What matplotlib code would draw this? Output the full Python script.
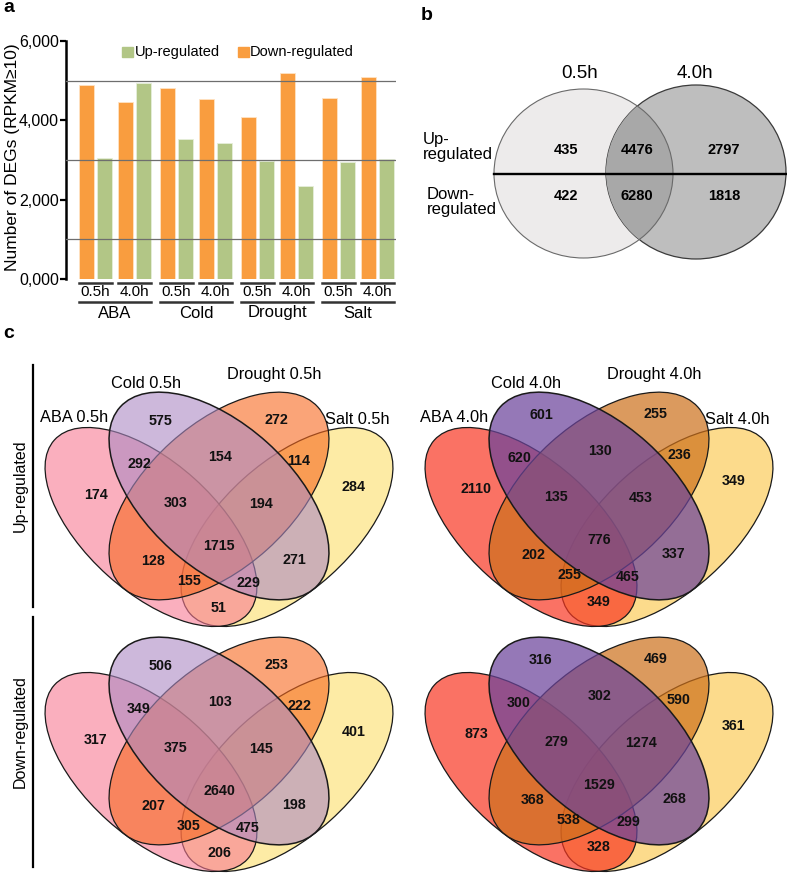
import matplotlib
matplotlib.use('Agg')
import matplotlib.pyplot as plt
from matplotlib.patches import Ellipse
from matplotlib.transforms import blended_transform_factory
from matplotlib.colors import to_rgba

plt.rcParams['font.family'] = ['Liberation Sans', 'DejaVu Sans']

# ---------------- data ----------------
treatments = ['ABA', 'Cold', 'Drought', 'Salt']
times = ['0.5h', '4.0h']
down_counts = [4900, 4460, 4820, 4545, 4090, 5185, 4560, 5095]
up_counts = [3050, 4950, 3535, 3435, 2980, 2340, 2945, 3030]
ytick_vals = [0, 2000, 4000, 6000]
ytick_labels = ['0,000', '2,000', '4,000', '6,000']
grid_vals = [1000, 3000, 5000]

b_sets = ['0.5h', '4.0h']
b_up = [435, 4476, 2797]
b_down = [422, 6280, 1818]

region_keys = ['C', 'D', 'AC', 'CD', 'DS', 'A', 'ACD', 'CDS', 'S', 'ACDS',
               'AD', 'CS', 'ADS', 'ACS', 'AS']
up_05 = [575, 272, 292, 154, 114, 174, 303, 194, 284, 1715, 128, 271, 155, 229, 51]
up_40 = [601, 255, 620, 130, 236, 2110, 135, 453, 349, 776, 202, 337, 255, 465, 349]
down_05 = [506, 253, 349, 103, 222, 317, 375, 145, 401, 2640, 207, 198, 305, 475, 206]
down_40 = [316, 469, 300, 302, 590, 873, 279, 1274, 361, 1529, 368, 268, 538, 299, 328]

# ---------------- layout ----------------
W, H = 787, 876
fig = plt.figure(figsize=(W / 100, H / 100), dpi=100)

ax0 = fig.add_axes([0, 0, 1, 1])
ax0.set_xlim(0, W)
ax0.set_ylim(H, 0)
ax0.axis('off')

ORANGE = '#F99D3F'
GREEN = '#B2C686'

# ---------------- panel a ----------------
ax = fig.add_axes([66 / W, 1 - 279 / H, 330 / W, 238 / H])
ax.set_xlim(0, 330)
ax.set_ylim(0, 6000)
ax.patch.set_alpha(0)
xd, xu = [], []
for g in range(4):
    for p in range(2):
        base = 20.5 + g * 81 + p * 39
        xd.append(base)
        xu.append(base + 18)
ax.bar(xd, down_counts, width=15, color=ORANGE, edgecolor='#FFE3C4', linewidth=0.6, zorder=2)
ax.bar(xu, up_counts, width=15, color=GREEN, edgecolor='#E6EEDA', linewidth=0.6, zorder=2)
for gv in grid_vals:
    ax.axhline(gv, xmin=0, xmax=1, color='#6E6E6E', lw=0.9, zorder=3)
for s in ['top', 'right', 'bottom']:
    ax.spines[s].set_visible(False)
ax.spines['left'].set_linewidth(1.8)
ax.set_yticks(ytick_vals)
ax.set_yticklabels(ytick_labels, fontsize=11.5)
ax.tick_params(axis='y', length=4, width=1.6, pad=1)
ax.set_xticks([])
ax0.text(13, 157, 'Number of DEGs (RPKM\u226510)', fontsize=12.5, rotation=90,
         ha='center', va='center')

bt = blended_transform_factory(ax.transData, ax0.transData)
for i in range(8):
    l = xd[i] - 7.5
    r = xu[i] + 7.5
    ax0.plot([l, r], [283, 283], color='#333333', lw=1.8, transform=bt, clip_on=False)
    ax0.text((l + r) / 2, 292, times[i % 2], fontsize=11, ha='center', va='center', transform=bt)
for g in range(4):
    l = xd[2 * g] - 7.5
    r = xu[2 * g + 1] + 7.5
    ax0.plot([l, r], [302, 302], color='#333333', lw=1.8, transform=bt, clip_on=False)
    ax0.text((l + r) / 2, 313, treatments[g], fontsize=12, ha='center', va='center', transform=bt)

# legend
ax0.add_patch(plt.Rectangle((122, 47), 11, 10, color=GREEN))
ax0.text(135, 52, 'Up-regulated', fontsize=10.5, va='center', ha='left')
ax0.add_patch(plt.Rectangle((238, 47), 11, 10, color=ORANGE))
ax0.text(250, 52, 'Down-regulated', fontsize=10.5, va='center', ha='left')

# panel letters
ax0.text(3, 8, 'a', fontsize=14, fontweight='bold', va='center', ha='left')
ax0.text(421, 15, 'b', fontsize=14, fontweight='bold', va='center', ha='left')
ax0.text(3, 334, 'c', fontsize=14, fontweight='bold', va='center', ha='left')

# ---------------- panel b ----------------
right = Ellipse((696, 172), 180, 174, facecolor='#BEBEBE', edgecolor='#3A3A3A', lw=0.9, zorder=2)
ax0.add_patch(right)
left = Ellipse((583.5, 173.5), 179, 169, facecolor='#EDEBEB', edgecolor='none', zorder=1)
ax0.add_patch(left)
inter = Ellipse((696, 172), 180, 174, facecolor='#A8A8A8', edgecolor='none', zorder=3)
ax0.add_patch(inter)
inter.set_clip_path(left)
left_edge = Ellipse((583.5, 173.5), 179, 169, facecolor='none', edgecolor='#6A6A6A', lw=0.8, zorder=4)
ax0.add_patch(left_edge)
ax0.plot([494, 786], [174, 174], color='black', lw=1.7, zorder=5)
ax0.text(580, 74, b_sets[0], fontsize=13.5, ha='center', va='center')
ax0.text(695, 74, b_sets[1], fontsize=13.5, ha='center', va='center')
ax0.text(423, 147, 'Up-\nregulated', fontsize=12, ha='left', va='center', linespacing=1.0)
ax0.text(427, 202, 'Down-\nregulated', fontsize=12, ha='left', va='center', linespacing=1.0)
bx = [566, 637, 724]
for i in range(3):
    ax0.text(bx[i], 150, str(b_up[i]), fontsize=10.5, fontweight='bold', ha='center', va='center', zorder=6)
    ax0.text(bx[i], 196, str(b_down[i]), fontsize=10.5, fontweight='bold', ha='center', va='center', zorder=6)

# ---------------- panel c ----------------
label_pos = {
    'C': (-58, -78), 'D': (57, -79), 'AC': (-80, -35), 'CD': (1, -42), 'DS': (80, -38),
    'A': (-123, -4), 'ACD': (-43, 4), 'CDS': (42, 5), 'S': (135, -12), 'ACDS': (0, 47),
    'AD': (-66, 62), 'CS': (75, 61), 'ADS': (-30, 82), 'ACS': (29, 84), 'AS': (0, 109),
}
name_pos = {'A': (-145, -78), 'C': (-73, -113), 'D': (55, -121), 'S': (138, -76)}
pal_05 = {'A': ((247, 122, 147), 0.6), 'C': ((172, 138, 195), 0.6),
          'D': ((247, 104, 30), 0.6), 'S': ((252, 222, 105), 0.6)}
pal_40 = {'A': ((248, 55, 34), 0.7), 'C': ((108, 68, 155), 0.72),
          'D': ((205, 112, 26), 0.7), 'S': ((252, 205, 91), 0.7)}


def draw_venn(cx, cy, counts, pal, names=None, suffix='', ldy=0):
    shapes = {
        'S': (cx + 68, cy + 31, 130, 65, -42),
        'A': (cx - 68, cy + 31, 130, 65, 42),
        'D': (cx, cy, 133, 72, -42),
        'C': (cx, cy, 133, 72, 42),
    }
    z = 2
    for key in ['S', 'A', 'D', 'C']:
        ex, ey, a, b, ang = shapes[key]
        rgb, alpha = pal[key]
        col = tuple(c / 255 for c in rgb)
        e = Ellipse((ex, ey), 2 * a, 2 * b, angle=ang, facecolor=to_rgba(col, alpha),
                    edgecolor='#1A1A1A', lw=1.1 if key == 'C' else 0.9, zorder=z)
        ax0.add_patch(e)
        z += 1
    for k, v in zip(region_keys, counts):
        dx, dy = label_pos[k]
        ax0.text(cx + dx, cy + dy + ldy, str(v), fontsize=10.3, fontweight='bold',
                 ha='center', va='center', color='#111111', zorder=10)
    if names:
        for key, nm in zip(['A', 'C', 'D', 'S'], names):
            dx, dy = name_pos[key]
            ax0.text(cx + dx, cy + dy, nm + ' ' + suffix, fontsize=11.8,
                     ha='center', va='center', zorder=10)


draw_venn(219, 496, up_05, pal_05, treatments, times[0], ldy=3)
draw_venn(599, 496, up_40, pal_40, treatments, times[1], ldy=-3)
draw_venn(219, 741, down_05, pal_05, ldy=3)
draw_venn(599, 741, down_40, pal_40, ldy=-3)

ax0.plot([33, 33], [365, 607], color='black', lw=1.6)
ax0.plot([33, 33], [617, 867], color='black', lw=1.6)
ax0.text(20, 486, 'Up-regulated', rotation=90, fontsize=11.5, ha='center', va='center')
ax0.text(20, 732, 'Down-regulated', rotation=90, fontsize=11.5, ha='center', va='center')

fig.savefig('out.png', dpi=100)
